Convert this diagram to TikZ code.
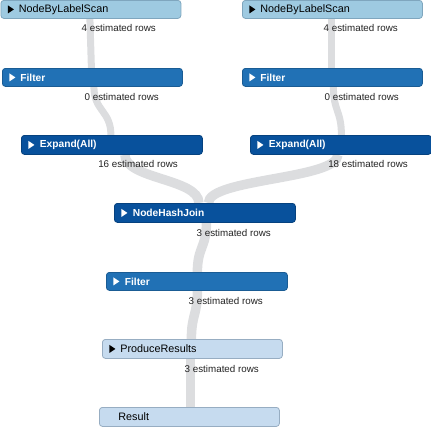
\documentclass[tikz,border=0pt]{standalone}
\usepackage{fontspec}
\setmainfont{Liberation Sans}
\usetikzlibrary{backgrounds,calc}
\definecolor{lightop}{HTML}{9ECAE1}
\definecolor{lightopb}{HTML}{7FA6BE}
\definecolor{midop}{HTML}{2171B5}
\definecolor{midopb}{HTML}{1A5C94}
\definecolor{darkop}{HTML}{08519C}
\definecolor{darkopb}{HTML}{06427F}
\definecolor{paleop}{HTML}{C6DBEF}
\definecolor{paleopb}{HTML}{97ADC2}
\definecolor{bandgray}{HTML}{DCDDDF}
\definecolor{rowtext}{HTML}{222222}
\tikzset{
  opbox/.style={draw, rounded corners=3pt, minimum width=180pt, minimum height=18.5pt,
    inner ysep=0pt, inner xsep=18pt, text width=144pt, align=left, anchor=north west, line width=0.8pt},
  withtri/.style={path picture={\fill[#1, sharp corners] ([xshift=7pt]path picture bounding box.west) ++(0,4pt) -- ++(6pt,-4pt) -- ++(-6pt,-4pt) -- cycle;}},
  lightbox/.style={opbox, fill=lightop, draw=lightopb, text=black, font=\fontsize{10.8}{12}\selectfont, withtri=black},
  midbox/.style={opbox, fill=midop, draw=midopb, text=white, font=\fontsize{10.2}{12}\selectfont\bfseries, withtri=white},
  darkbox/.style={opbox, fill=darkop, draw=darkopb, text=white, font=\fontsize{10.2}{12}\selectfont\bfseries, withtri=white},
  palebox/.style={opbox, fill=paleop, draw=paleopb, text=black, font=\fontsize{10.8}{12}\selectfont, withtri=black},
  resbox/.style={opbox, fill=paleop, draw=paleopb, text=black, font=\fontsize{10.8}{12}\selectfont, inner xsep=19pt, text width=142pt},
  rows/.style={anchor=east, inner sep=0pt, text=rowtext, font=\fontsize{9.8}{11}\selectfont},
  band/.style={draw=bandgray, line width=#1},
  band/.default=7pt
}
\begin{document}
\begin{tikzpicture}[x=1pt,y=-1pt]
\useasboundingbox (0,0) rectangle (431,426);
% operator boxes
\node[lightbox, minimum height=18pt] (nblL) at (0.5,0) {NodeByLabelScan};
\node[midbox, minimum height=18pt] (fiL) at (2,68) {Filter};
\node[lightbox, minimum height=18pt] (nblR) at (242,0) {NodeByLabelScan};
\node[midbox, minimum height=18pt] (fiR) at (242,68) {Filter};
\node[darkbox, minimum width=181pt, minimum height=19pt] (exL) at (21,135) {Expand(All)};
\node[darkbox, minimum width=181pt, minimum height=19pt] (exR) at (250,135) {Expand(All)};
\node[darkbox, minimum width=181pt, minimum height=19pt] (nhj) at (114,203) {NodeHashJoin};
\node[midbox, minimum width=181pt, minimum height=18pt] (fi) at (106,272) {Filter};
\node[palebox, minimum height=19pt] (pr) at (102,339) {ProduceResults};
\node[resbox, minimum height=19pt] (res) at (99,407) {Result};
% row estimates
\node[rows] (rnblL) at (156,28) {4 estimated rows};
\node[rows] (rfiL) at (159,97) {0 estimated rows};
\node[rows] (rnblR) at (398,28) {4 estimated rows};
\node[rows] (rfiR) at (399,97) {0 estimated rows};
\node[rows] (rexL) at (178,164) {16 estimated rows};
\node[rows] (rexR) at (408,164) {18 estimated rows};
\node[rows] (rnhj) at (271,233) {3 estimated rows};
\node[rows] (rfi) at (263,301) {3 estimated rows};
\node[rows] (rpr) at (259,369) {3 estimated rows};
% flow bands
\begin{pgfonlayer}{background}
\draw[band] ([xshift=-1pt]nblL.south) -- ([xshift=-1pt]fiL.north);
\draw[band] ([xshift=1.5pt]fiL.south) .. controls +(0,24.5) and +(0,-24.5) .. ([xshift=-1pt]exL.north);
\draw[band=9.5pt] ([xshift=13pt]exL.south) .. controls +(0,24.5) and +(0,-24.5) .. ([xshift=-6pt]nhj.north);
\draw[band] ([xshift=-1pt]nblR.south) -- ([xshift=-1pt]fiR.north);
\draw[band] ([xshift=1pt]fiR.south) .. controls +(0,24.5) and +(0,-24.5) .. ([xshift=0.5pt]exR.north);
\draw[band=9.5pt] ([xshift=-3pt]exR.south) .. controls +(0,24.5) and +(0,-24.5) .. ([xshift=3.5pt]nhj.north);
\draw[band=9.5pt] ([xshift=1.5pt]nhj.south) .. controls +(0,25) and +(0,-25) .. ([xshift=0.5pt]fi.north);
\draw[band=9.5pt] ([xshift=0.5pt]fi.south) .. controls +(0,24.5) and +(0,-24.5) .. ([xshift=-1pt]pr.north);
\draw[band=9.5pt] ([xshift=-2pt]pr.south) .. controls +(0,24.5) and +(0,-24.5) .. ([xshift=1pt]res.north);
\end{pgfonlayer}
\end{tikzpicture}
\end{document}
